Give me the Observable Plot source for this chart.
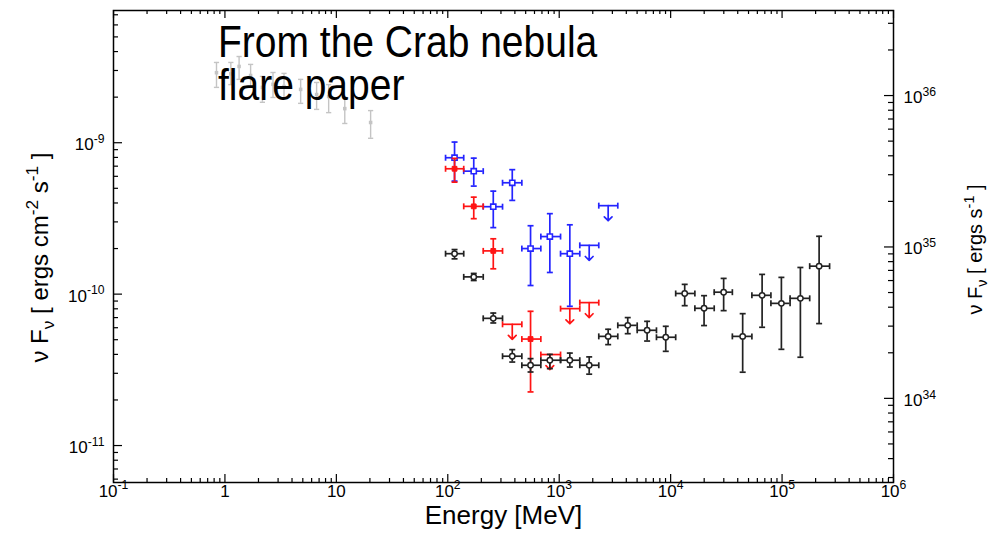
<!DOCTYPE html>
<html>
<head>
<meta charset="utf-8">
<script src="https://cdn.jsdelivr.net/npm/d3@7"></script>
<script src="https://cdn.jsdelivr.net/npm/@observablehq/plot@0.6"></script>
<style>
  body { margin: 0; background: #fff; }
  #chart svg { display: block; }
</style>
</head>
<body>
<div id="chart"></div>
<script>
// ---- Energy bins shared by the LAT spectra (MeV) ----
const binLow  = [95.5, 139, 208, 310, 462, 684, 1028, 1530, 2265, 3355, 5010, 7460, 11100, 16500, 24600, 35800, 53600, 79400, 118000, 177000];
const binMid  = [115, 171, 256, 379, 553, 824, 1245, 1858, 2750, 4120, 6150, 9040, 13370, 19950, 29900, 44300, 66200, 98600, 146000, 215000];
const binHigh = [139, 208, 310, 462, 684, 1028, 1530, 2265, 3355, 5010, 7460, 11100, 16500, 24600, 35800, 53600, 79400, 118000, 177000, 267000];

// ---- Average nebula spectrum (black open circles), one value per bin ----
const avgFlux = [1.85e-10, 1.30e-10, 6.92e-11, 3.89e-11, 3.39e-11, 3.66e-11, 3.66e-11, 3.39e-11, 5.26e-11, 6.22e-11, 5.77e-11, 5.19e-11, 1.01e-10, 8.06e-11, 1.03e-10, 5.26e-11, 9.82e-11, 8.69e-11, 9.38e-11, 1.53e-10];
const avgLow  = [1.71e-10, 1.23e-10, 6.45e-11, 3.56e-11, 3.06e-11, 3.22e-11, 3.30e-11, 2.96e-11, 4.64e-11, 5.48e-11, 4.90e-11, 4.19e-11, 8.39e-11, 6.20e-11, 7.78e-11, 3.05e-11, 6.04e-11, 4.32e-11, 3.83e-11, 6.39e-11];
const avgHigh = [1.97e-10, 1.37e-10, 7.50e-11, 4.30e-11, 3.75e-11, 4.00e-11, 4.08e-11, 3.85e-11, 5.86e-11, 7.00e-11, 6.61e-11, 6.13e-11, 1.16e-10, 9.77e-11, 1.27e-10, 7.43e-11, 1.35e-10, 1.29e-10, 1.50e-10, 2.41e-10];

// ---- Flare spectrum (blue open squares) ----
const flareBins = [0, 1, 2, 3, 4, 5, 6];
const flareFlux = [7.96e-10, 6.49e-10, 3.78e-10, 5.44e-10, 2.00e-10, 2.40e-10, 1.85e-10];
const flareLow  = [5.58e-10, 5.17e-10, 2.75e-10, 4.16e-10, 1.14e-10, 1.39e-10, 8.31e-11];
const flareHigh = [1.01e-9, 7.91e-10, 4.79e-10, 6.64e-10, 2.83e-10, 3.40e-10, 2.87e-10];
const flareLimitBins = [7, 8];
const flareLimits    = [2.10e-10, 3.84e-10];

// ---- Second flare interval (red filled squares) ----
const flare2Bins = [0, 1, 2, 4];
const flare2Flux = [6.73e-10, 3.80e-10, 1.93e-10, 5.05e-11];
const flare2Low  = [5.49e-10, 3.15e-10, 1.47e-10, 2.26e-11];
const flare2High = [7.88e-10, 4.37e-10, 2.32e-10, 7.70e-11];
const flare2LimitBins = [3, 5, 6, 7];
const flare2Limits    = [6.32e-11, 3.99e-11, 8.02e-11, 8.79e-11];

// ---- Lower-energy synchrotron points (grey) ----
const synEnergy = [0.84, 1.13, 1.34, 1.70, 2.17, 2.70, 3.39, 4.78, 6.65, 8.53, 11.9, 20.3];
const synFlux   = [2.90e-9, 2.85e-9, 3.19e-9, 2.78e-9, 2.32e-9, 2.43e-9, 2.35e-9, 2.25e-9, 2.08e-9, 2.02e-9, 1.68e-9, 1.36e-9];
const synLow    = [2.32e-9, 2.42e-9, 2.62e-9, 2.32e-9, 1.85e-9, 1.99e-9, 1.96e-9, 1.82e-9, 1.66e-9, 1.58e-9, 1.34e-9, 1.07e-9];
const synHigh   = [3.39e-9, 3.39e-9, 3.71e-9, 3.29e-9, 2.74e-9, 2.91e-9, 2.87e-9, 2.62e-9, 2.50e-9, 2.42e-9, 1.99e-9, 1.63e-9];

// ---- Axes ----
const xDomain = [0.1, 1e6];
const yDomain = [5.7e-12, 7.47e-9];
const xTicks = [0.1, 1, 10, 100, 1e3, 1e4, 1e5, 1e6];
const xTickLabels = ["10^{-1}", "1", "10", "10^{2}", "10^{3}", "10^{4}", "10^{5}", "10^{6}"];
const yTicks = [1e-11, 1e-10, 1e-9];
const yTickLabels = ["10^{-11}", "10^{-10}", "10^{-9}"];
// Luminosity (right axis) = flux x 4πd²
const lumPerFlux = 4.88e44;
const lumTicks = [1e34, 1e35, 1e36];
const lumTickLabels = ["10^{34}", "10^{35}", "10^{36}"];

const titleLines = ["From the Crab nebula", "flare paper"];
const xLabel = "Energy [MeV]";
const yLabel = "ν F_{ν} [ ergs cm^{-2} s^{-1} ]";
const lumLabel = "ν F_{ν} [ ergs s^{-1} ]";

// ---- Layout ----
const W = 998, H = 533;
const mL = 113, mR = 105, mT = 10, mB = 51;
const plotW = W - mL - mR, plotH = H - mT - mB;
const font = "'Liberation Sans', Arial, Helvetica, sans-serif";

const BLUE = "#2424ff", RED = "#ff1414", BLACK = "#222222", GREY = "#c4c4c4";

// short line symbols used for error-bar end caps
const capH = { draw(ctx, size) { const h = Math.sqrt(size / Math.PI); ctx.moveTo(-h, 0); ctx.lineTo(h, 0); } };
const capV = { draw(ctx, size) { const h = Math.sqrt(size / Math.PI); ctx.moveTo(0, -h); ctx.lineTo(0, h); } };

const bins = binMid.map((e, i) => ({ e, e0: binLow[i], e1: binHigh[i] }));
const seriesRows = (idx, f, lo, hi) => idx.map((b, i) => ({ ...bins[b], f: f[i], lo: lo[i], hi: hi[i] }));
const limitRows = (idx, f) => idx.map((b, i) => ({ ...bins[b], f: f[i] }));

const avgRows    = seriesRows(bins.map((_, i) => i), avgFlux, avgLow, avgHigh);
const flareRows  = seriesRows(flareBins, flareFlux, flareLow, flareHigh);
const flare2Rows = seriesRows(flare2Bins, flare2Flux, flare2Low, flare2High);
const flareLim   = limitRows(flareLimitBins, flareLimits);
const flare2Lim  = limitRows(flare2LimitBins, flare2Limits);
const synRows = synEnergy.map((e, i) => ({ e, f: synFlux[i], lo: synLow[i], hi: synHigh[i] }));

function binnedMarks(rows, color, marker) {
  const sw = 1.7;
  return [
    Plot.ruleY(rows, { y: "f", x1: "e0", x2: "e1", stroke: color, strokeWidth: sw }),
    Plot.ruleX(rows, { x: "e", y1: "lo", y2: "hi", stroke: color, strokeWidth: sw }),
    Plot.dot(rows, { x: "e0", y: "f", symbol: capV, r: 3, fill: "none", stroke: color, strokeWidth: sw }),
    Plot.dot(rows, { x: "e1", y: "f", symbol: capV, r: 3, fill: "none", stroke: color, strokeWidth: sw }),
    Plot.dot(rows, { x: "e", y: "lo", symbol: capH, r: 3, fill: "none", stroke: color, strokeWidth: sw }),
    Plot.dot(rows, { x: "e", y: "hi", symbol: capH, r: 3, fill: "none", stroke: color, strokeWidth: sw }),
    Plot.dot(rows, { x: "e", y: "f", ...marker })
  ];
}

function limitMarks(rows, color) {
  const sw = 1.7;
  return [
    Plot.ruleY(rows, { y: "f", x1: "e0", x2: "e1", stroke: color, strokeWidth: sw }),
    Plot.dot(rows, { x: "e0", y: "f", symbol: capV, r: 3, fill: "none", stroke: color, strokeWidth: sw }),
    Plot.dot(rows, { x: "e1", y: "f", symbol: capV, r: 3, fill: "none", stroke: color, strokeWidth: sw }),
    Plot.vector(rows, { x: "e", y: "f", length: 15, rotate: 180, anchor: "start", r: 4.5, stroke: color, strokeWidth: sw })
  ];
}

const lumDomain = yDomain.map(v => v * lumPerFlux);
const isMajor = (ticks) => (v) => ticks.some(t => Math.abs(v / t - 1) < 1e-6);
const xMinor = d3.scaleLog().domain(xDomain).ticks().filter(v => !isMajor(xTicks)(v));
const yMinor = d3.scaleLog().domain(yDomain).ticks().filter(v => !isMajor(yTicks)(v));
const lumMinor = d3.scaleLog().domain(lumDomain).ticks().filter(v => !isMajor(lumTicks)(v));

const tickStyle = { stroke: "#000", strokeWidth: 1.2 };
const tickFont = 17;

const chart = Plot.plot({
  width: W, height: H,
  marginLeft: mL, marginRight: mR, marginTop: mT, marginBottom: mB,
  style: { fontFamily: font, background: "#fff", color: "#000" },
  x: { type: "log", domain: xDomain, axis: null },
  y: { type: "log", domain: yDomain, axis: null },
  marks: [
    // grey synchrotron points
    Plot.ruleX(synRows, { x: "e", y1: "lo", y2: "hi", stroke: GREY, strokeWidth: 1.4 }),
    Plot.dot(synRows, { x: "e", y: "lo", symbol: capH, r: 2.6, fill: "none", stroke: GREY, strokeWidth: 1.4 }),
    Plot.dot(synRows, { x: "e", y: "hi", symbol: capH, r: 2.6, fill: "none", stroke: GREY, strokeWidth: 1.4 }),
    Plot.dot(synRows, { x: "e", y: "f", symbol: "square", r: 2, fill: GREY }),

    ...binnedMarks(flareRows, BLUE, { symbol: "square", r: 2.9, fill: "#fff", stroke: BLUE, strokeWidth: 1.6 }),
    ...limitMarks(flareLim, BLUE),
    ...binnedMarks(flare2Rows, RED, { symbol: "square", r: 2.7, fill: RED, stroke: RED, strokeWidth: 1 }),
    ...limitMarks(flare2Lim, RED),
    ...binnedMarks(avgRows, BLACK, { symbol: "circle", r: 2.7, fill: "#fff", stroke: BLACK, strokeWidth: 1.5 }),

    // frame and inward ticks
    Plot.frame({ stroke: "#000", strokeWidth: 1.5 }),
    Plot.tickX(xTicks, { x: d => d, insetTop: plotH - 8, ...tickStyle }),
    Plot.tickX(xMinor, { x: d => d, insetTop: plotH - 4, ...tickStyle }),
    Plot.tickX(xTicks, { x: d => d, insetBottom: plotH - 8, ...tickStyle }),
    Plot.tickX(xMinor, { x: d => d, insetBottom: plotH - 4, ...tickStyle }),
    Plot.tickY(yTicks, { y: d => d, insetRight: plotW - 9, ...tickStyle }),
    Plot.tickY(yMinor, { y: d => d, insetRight: plotW - 5, ...tickStyle }),
    Plot.tickY(lumTicks, { y: d => d / lumPerFlux, insetLeft: plotW - 9, ...tickStyle }),
    Plot.tickY(lumMinor, { y: d => d / lumPerFlux, insetLeft: plotW - 5, ...tickStyle }),

    // tick labels
    Plot.text(xTicks, { x: d => d, text: (d, i) => xTickLabels[i], frameAnchor: "bottom", textAnchor: "middle", dy: 14, fontSize: tickFont, fill: "#000" }),
    Plot.text(yTicks, { y: d => d, text: (d, i) => yTickLabels[i], frameAnchor: "left", textAnchor: "end", dx: -9, dy: 2, fontSize: tickFont, fill: "#000" }),
    Plot.text(lumTicks, { y: d => d / lumPerFlux, text: (d, i) => lumTickLabels[i], frameAnchor: "right", textAnchor: "start", dx: 10, dy: 2, fontSize: tickFont, fill: "#000" }),

    // axis titles
    Plot.text([xLabel], { frameAnchor: "bottom", textAnchor: "middle", dy: 41, fontSize: 26, fill: "#000" }),
    Plot.text([yLabel], { frameAnchor: "left", textAnchor: "middle", dx: -73, dy: 11, rotate: -90, fontSize: 24, fill: "#000" }),
    Plot.text([lumLabel], { frameAnchor: "right", textAnchor: "middle", dx: 82, dy: 3, rotate: -90, fontSize: 20, fill: "#000" })
  ]
});

// Turn ^{...} and _{...} into raised / lowered tspans with explicit pixel sizes
function richText(svg) {
  d3.select(svg).selectAll("text").each(function () {
    const src = this.textContent;
    if (!/[\^_]\{/.test(src)) return;
    let el = this, base = null;
    while (el && el !== svg && base == null) {
      const fs = el.getAttribute && el.getAttribute("font-size");
      if (fs) base = parseFloat(fs);
      el = el.parentNode;
    }
    if (!base) base = 16;
    const small = Math.round(base * 0.72 * 10) / 10;
    const node = d3.select(this);
    node.text(null).attr("font-size", base);
    const re = /([\^_])\{([^}]*)\}/g;
    let last = 0, m, offset = 0;
    const plain = s => {
      if (!s) return;
      const t = node.append("tspan").attr("font-size", base).text(s);
      if (offset) t.attr("dy", -offset);
      offset = 0;
    };
    while ((m = re.exec(src))) {
      plain(src.slice(last, m.index));
      const target = m[1] === "^" ? -0.42 * base : 0.25 * base;
      node.append("tspan").attr("font-size", small).attr("dy", target - offset).text(m[2]);
      offset = target;
      last = re.lastIndex;
    }
    plain(src.slice(last));
  });
}
richText(chart);

// Overlaid slide title
const titleScale = 1.15;
const title = d3.select(chart).append("text")
  .attr("transform", `translate(218,57) scale(1,${titleScale})`)
  .attr("text-anchor", "start")
  .attr("font-family", font)
  .attr("font-size", 39)
  .attr("fill", "#000");
titleLines.forEach((line, i) => {
  title.append("tspan").attr("x", 0).attr("y", i * 43 / titleScale).attr("font-size", 39).text(line);
});

document.getElementById("chart").appendChild(chart);
</script>
</body>
</html>
